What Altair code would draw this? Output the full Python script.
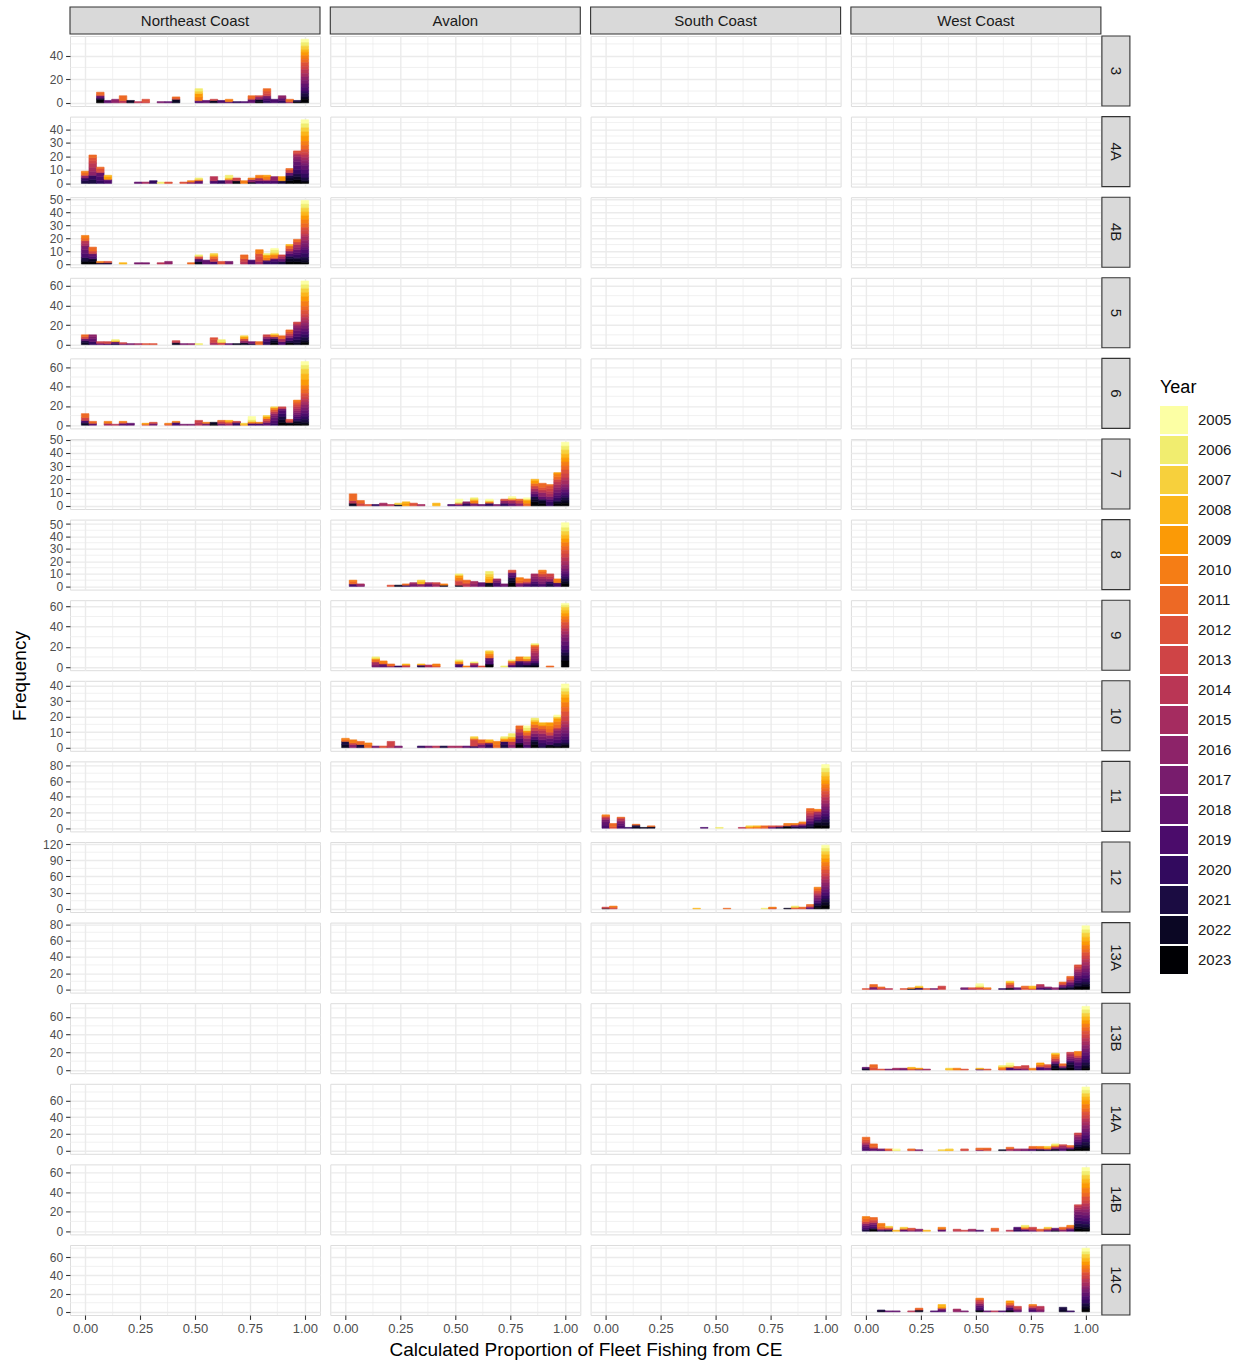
import altair as alt
import pandas as pd

FONT = "Liberation Sans"
GRID_COL = "#EBEBEB"
DARK = "#333333"
LABEL_COL = "#4D4D4D"

regions = ["Northeast Coast", "Avalon", "South Coast", "West Coast"]
zones = ["3", "4A", "4B", "5", "6", "7", "8", "9", "10", "11", "12", "13A", "13B", "14A", "14B", "14C"]
zone_region = {
    "3": "Northeast Coast", "4A": "Northeast Coast", "4B": "Northeast Coast", "5": "Northeast Coast", "6": "Northeast Coast",
    "7": "Avalon", "8": "Avalon", "9": "Avalon", "10": "Avalon",
    "11": "South Coast", "12": "South Coast",
    "13A": "West Coast", "13B": "West Coast", "14A": "West Coast", "14B": "West Coast", "14C": "West Coast",
}
years = list(range(2005, 2024))
year_colors = ["#FCFFA4", "#F1ED6F", "#F7D03C", "#FBB61A", "#FB9A06", "#F57D15", "#ED6925", "#DD513A",
               "#CF4446", "#BA3655", "#A52C60", "#8D2369", "#781C6D", "#61136E", "#4B0C6B", "#320A5E",
               "#1B0C42", "#0B0724", "#000004"]

y_breaks = {
    "3": [0, 20, 40], "4A": [0, 10, 20, 30, 40], "4B": [0, 10, 20, 30, 40, 50], "5": [0, 20, 40, 60],
    "6": [0, 20, 40, 60], "7": [0, 10, 20, 30, 40, 50], "8": [0, 10, 20, 30, 40, 50], "9": [0, 20, 40, 60],
    "10": [0, 10, 20, 30, 40], "11": [0, 20, 40, 60, 80], "12": [0, 30, 60, 90, 120], "13A": [0, 20, 40, 60, 80],
    "13B": [0, 20, 40, 60], "14A": [0, 20, 40, 60], "14B": [0, 20, 40, 60], "14C": [0, 20, 40, 60],
}
x_major = [0, 0.25, 0.5, 0.75, 1.0]
x_minor = [0.125, 0.375, 0.625, 0.875]
n_bins = 30
x_title = "Calculated Proportion of Fleet Fishing from CE"
y_title = "Frequency"

# bin index (0..29, centred on k/29) -> "yy:count" per year
P3 = {2: "23:3 21:1 18:2 12:1 11:2", 3: "18:2", 4: "16:3", 5: "14:2 11:4", 6: "22:2", 7: "14:1",
      8: "13:1 12:2", 10: "17:1", 11: "18:1", 12: "22:3 12:1 11:1", 15: "19:1 18:1 10:3 09:3 07:2 06:2",
      16: "18:2", 17: "22:2 13:1", 18: "19:2", 19: "18:1 10:2", 20: "20:1", 21: "19:1", 22: "18:3 12:1 11:2",
      23: "23:1 22:2 16:2 13:1", 24: "20:2 19:2 17:2 13:2 12:2 11:2", 25: "19:3", 26: "20:2 18:2 16:2",
      27: "15:1 11:2", 28: "23:1 21:1",
      29: "05:3 06:3 07:3 08:2 09:3 10:3 11:3 12:3 13:3 14:3 15:3 16:3 17:3 18:3 19:3 20:2 21:3 22:2 23:3"}
P4A = {0: "21:2 20:2 16:2 11:2 10:1", 1: "21:3 20:3 16:3 15:3 14:3 13:2 12:2 11:2",
       2: "20:2 19:3 18:3 13:1 12:2 11:1", 3: "19:2 18:1 09:2 08:1", 7: "18:1", 8: "15:1", 9: "20:2",
       10: "06:1", 11: "12:1", 13: "12:1", 14: "16:1 10:1", 15: "18:2 10:1 06:1", 17: "19:2 14:3", 18: "20:2",
       19: "16:2 14:1 08:1 06:2", 20: "23:1 22:1 13:2", 21: "10:2", 22: "22:1 16:2 10:1", 23: "19:2 15:2 10:2",
       24: "19:2 14:1 10:2 09:1", 25: "19:2 16:3", 26: "21:2 09:3", 27: "23:2 22:2 21:2 18:2 13:2 11:1",
       28: "23:3 22:2 21:2 20:3 19:3 18:3 17:2 16:2 15:1 14:1 13:1 12:1",
       29: "05:3 06:3 07:3 08:3 09:4 10:3 11:3 12:2 13:2 14:2 15:2 16:2 17:2 18:3 19:3 20:3 21:2 22:1 23:1"}
P4B = {0: "23:2 22:1 21:2 19:3 18:3 17:3 15:2 14:2 11:2 10:2", 1: "23:2 22:2 19:2 18:2 13:2 11:3",
       2: "21:1 10:1", 3: "21:1 12:1", 5: "08:1", 7: "17:1", 8: "17:1", 10: "14:1", 11: "16:2", 14: "11:1",
       15: "22:2 19:2 13:1 12:1 06:1", 16: "18:3", 17: "19:2 13:2 11:2 08:1 07:1", 18: "12:2", 19: "17:2",
       21: "14:2 13:2 11:3", 22: "19:3", 23: "15:2 13:4 12:2 10:3", 24: "20:2 19:1 10:2 09:2 06:1",
       25: "20:2 19:2 12:1 10:2 08:1 07:1 06:2 05:1", 26: "21:2 18:2 15:2 13:1",
       27: "23:2 22:2 21:2 19:2 17:2 13:2 11:2 08:1", 28: "23:2 22:2 21:1 20:2 19:2 18:2 16:2 15:2 13:2 11:2",
       29: "05:3 06:3 07:3 08:3 09:3 10:3 11:3 12:2 13:3 14:2 15:3 16:2 17:3 18:2 19:3 20:3 21:2 22:2 23:1"}
P5 = {0: "22:2 21:2 18:2 13:2 11:2", 1: "20:3 18:3 17:2 16:2", 2: "18:1 15:1 13:1", 3: "19:1 13:2",
      4: "21:1 18:2 08:1 06:1", 5: "17:1 13:1", 6: "17:1", 7: "15:1", 8: "12:1", 9: "12:1",
      12: "22:2 14:1 13:1", 13: "17:1", 14: "16:1", 15: "06:1", 17: "15:2 13:3 12:2", 18: "13:2 07:1 06:2",
      19: "18:1", 20: "22:1", 21: "22:2 16:2 13:2 09:2 07:1", 22: "21:1 17:2", 23: "11:3",
      24: "20:3 19:3 16:2 13:2", 25: "23:2 22:2 21:2 17:2 10:2 07:1", 26: "19:3 15:3 11:3",
      27: "23:2 21:2 19:3 16:2 14:2 12:2 11:2", 28: "22:2 21:3 20:3 19:3 18:3 17:3 16:2 15:2 13:2",
      29: "05:4 06:4 07:4 08:4 09:5 10:5 11:4 12:4 13:3 14:3 15:3 16:3 17:3 18:3 19:3 20:3 21:3 22:2 23:2"}
P6 = {0: "22:2 21:1 19:2 13:3 11:4", 1: "18:2 11:2", 3: "15:2 10:2", 4: "14:1", 5: "18:2 12:1 10:1",
      6: "18:2", 8: "12:1 09:1", 9: "17:2 12:1", 11: "12:1 10:1", 12: "19:3 10:1", 13: "17:1", 14: "17:1",
      15: "14:3 13:2", 16: "17:2 10:1", 17: "23:1 22:2", 18: "17:2 13:2 11:1", 19: "15:2 12:1 10:1 08:1",
      20: "20:2 19:1 13:1", 21: "09:1 07:1", 22: "19:2 11:1 09:1 06:2 05:3", 23: "19:2 10:1",
      24: "18:3 14:2 12:2 09:2 07:1", 25: "20:2 19:3 18:3 17:2 16:2 14:2 12:2 10:2 07:1",
      26: "23:3 22:3 21:3 20:3 19:3 18:2 14:1 13:1", 27: "23:2 22:1 13:2 12:1",
      28: "23:2 22:2 21:1 20:2 19:2 18:2 17:2 16:2 15:2 14:2 13:2 12:2 11:2 10:1",
      29: "05:4 06:4 07:5 08:6 09:6 10:4 11:4 12:3 13:3 14:3 15:3 16:3 17:3 18:3 19:3 20:3 21:3 22:2 23:1"}
P7 = {1: "22:2 14:2 11:5", 2: "13:2 11:2", 3: "12:1", 4: "20:1", 5: "15:2", 6: "14:1", 7: "22:1 07:1",
      8: "09:2 08:1", 9: "12:2", 10: "15:1", 12: "08:2", 14: "19:1", 15: "18:1 13:1 06:1 05:2",
      16: "20:2 16:1", 17: "17:2 10:2 08:1 06:1", 18: "18:1", 19: "20:2 11:1 07:1 05:1", 20: "17:1",
      21: "20:2 16:2 12:1", 22: "18:2 15:2 12:1 07:1 05:1", 23: "16:2 13:2 11:1", 24: "11:2 09:2 08:1 05:1",
      25: "23:3 22:2 21:2 19:2 17:2 15:2 13:2 11:2 09:2 08:1", 26: "23:2 22:2 21:1 18:2 16:3 14:2 12:2 11:3",
      27: "20:3 19:2 17:2 15:2 14:2 13:2 12:2 11:1",
      28: "23:2 22:1 21:1 20:2 19:2 18:2 17:2 16:2 15:2 14:2 13:2 11:2 10:2 09:1",
      29: "05:3 06:3 07:3 08:3 09:3 10:3 11:3 12:3 13:3 14:2 15:3 16:2 17:2 18:2 19:2 20:2 21:2 22:2 23:2"}
P8 = {1: "19:2 11:2 10:1", 2: "17:1 15:1", 6: "12:1", 7: "22:1", 8: "20:1 11:1", 9: "17:2 15:1",
      10: "16:2 08:2 07:1", 11: "18:2 15:1", 12: "15:2 13:1", 13: "22:1 10:1", 15: "22:1 13:3 12:1 10:2 09:2 06:1",
      16: "14:2 12:1 11:2", 17: "16:2 15:2", 18: "18:3", 19: "23:1 22:2 10:1 09:2 08:2 07:2 06:2",
      20: "19:3 17:2 15:1", 21: "18:1 17:1", 22: "23:3 22:2 21:2 19:2 18:2 13:1 12:1", 23: "17:2 15:1 11:2 10:2",
      24: "19:2 16:1 13:1 11:2", 25: "20:2 19:2 17:2 16:2 15:2", 26: "19:2 17:2 16:2 15:2 13:2 11:2 10:1",
      27: "21:2 20:2 16:2 14:2 13:2", 28: "19:3 10:3",
      29: "05:4 06:3 07:3 08:3 09:3 10:3 11:3 12:3 13:3 14:3 15:3 16:3 17:2 18:2 19:2 20:2 21:2 22:2 23:2"}
P9 = {4: "17:2 15:3 11:2 10:1 07:1 06:1", 5: "18:3 11:1 10:2", 6: "16:1 11:2", 7: "20:1", 8: "14:1 12:1 08:1",
      10: "21:1 18:1 08:1", 11: "15:1 14:1", 12: "12:1 10:2", 15: "19:3 10:2 08:1 06:1", 16: "10:1",
      17: "18:2 14:2 06:1", 18: "12:1", 19: "23:2 22:1 19:3 18:3 11:2 10:2 08:2 07:1", 21: "06:1",
      22: "19:2 14:2 11:2 06:1", 23: "21:2 20:2 19:2 11:2 10:2", 24: "22:2 19:2 17:2 10:2 07:2",
      25: "23:1 22:1 21:2 19:2 17:2 16:3 15:3 14:2 13:2 12:2 11:1 10:1 06:1", 27: "11:1",
      29: "05:2 06:2 07:3 08:3 09:3 10:3 11:3 12:3 13:3 14:3 15:3 16:3 17:4 18:4 19:4 20:3 21:3 22:5 23:6"}
P10 = {0: "22:2 21:2 11:1 10:1", 1: "16:2 13:1 10:2", 2: "21:2 11:2", 3: "11:2 10:1", 4: "17:1", 5: "12:1",
       6: "14:1 13:3", 7: "17:1", 10: "20:1", 11: "17:1", 12: "14:1", 13: "21:1", 14: "15:1", 15: "15:1",
       16: "18:1", 17: "20:1 13:4 11:1 07:1", 18: "17:2 14:1 11:2", 19: "20:2 18:1 10:1 08:1", 20: "11:2 10:2",
       21: "21:2 20:2 10:1 09:1 06:1", 22: "16:2 14:2 10:2 08:1 06:2", 23: "23:2 22:1 19:3 17:2 15:2 13:2 11:2",
       24: "19:2 17:2 16:2 14:2 11:2 09:1 06:2 05:1", 25: "23:2 22:2 21:1 19:2 17:2 15:2 13:2 11:2 09:2 07:1 06:1",
       26: "21:1 20:2 19:2 17:2 16:2 14:2 13:1 11:2 09:1 08:1", 27: "23:1 22:1 19:2 18:2 16:2 13:2 11:2 10:2 09:2",
       28: "23:1 21:2 19:2 18:2 17:2 16:2 15:1 13:1 11:2 10:2 09:2 07:1 05:1",
       29: "05:3 06:2 07:2 08:2 09:3 10:3 11:3 12:3 13:3 14:2 15:2 16:2 17:2 18:2 19:2 20:2 21:1 22:1 23:1"}
P11 = {0: "19:4 18:4 17:3 15:2 13:2 11:1 10:1", 1: "12:2 11:4", 2: "19:3 18:3 17:2 16:2 14:2 13:1 11:1",
       3: "20:1", 4: "22:2 21:2 11:1", 5: "22:1", 6: "22:2 11:1", 13: "19:1", 15: "06:1", 18: "14:1",
       19: "11:1 09:1 07:1", 20: "11:1 10:1 08:1", 21: "12:1 11:2", 22: "19:1 16:1 12:1", 23: "22:1 20:1 13:1",
       24: "23:2 21:1 11:2 10:1", 25: "21:2 18:2 11:1 10:1", 26: "22:1 20:2 17:2 13:1 11:1 10:1",
       27: "22:2 21:2 20:2 19:2 18:2 17:2 16:2 15:2 14:2 13:2 12:2 11:3",
       28: "23:4 22:3 21:2 20:2 19:2 18:2 17:2 16:2 15:2 12:1 11:1 10:1",
       29: "05:5 06:5 07:5 08:5 09:5 10:5 11:4 12:4 13:4 14:4 15:4 16:4 17:4 18:4 19:4 20:4 21:4 22:4 23:3"}
P12 = {0: "22:1 13:2", 1: "13:2 11:2 10:1", 12: "08:1", 16: "11:1", 21: "06:1", 22: "13:1 11:1 10:1",
       24: "22:1", 25: "12:2 10:1 06:2", 26: "13:1 11:2", 27: "19:2 16:2 12:2 11:2",
       28: "23:3 22:3 21:3 20:3 19:3 18:3 17:3 16:3 15:3 14:2 13:2 12:3 11:3 10:3",
       29: "05:6 06:6 07:6 08:7 09:7 10:7 11:7 12:6 13:6 14:6 15:6 16:6 17:6 18:6 19:6 20:6 21:6 22:6 23:6"}
P13A = {0: "12:1", 1: "17:3 11:3", 2: "14:1 12:1 11:1", 3: "14:1", 5: "12:1", 6: "22:1 10:1",
        7: "20:2 09:1 07:1", 8: "12:1", 9: "17:1", 10: "13:4", 13: "18:1 17:1", 14: "15:1 12:1",
        15: "13:2 11:1 06:2 05:2", 16: "13:1 10:1", 18: "20:1", 19: "23:1 22:1 14:2 13:2 11:2 08:1 07:1",
        20: "19:1 18:1", 21: "12:2 11:2", 22: "13:1 09:1 08:2", 23: "19:2 16:2 14:2", 24: "21:1 19:1 16:1",
        25: "17:1 16:1", 26: "23:1 22:1 19:2 16:2 12:2 11:1", 27: "22:2 21:2 19:2 18:2 16:2 14:2 12:2 11:2",
        28: "23:3 22:2 21:3 20:3 19:3 18:3 17:3 16:2 15:2 14:2 13:2 12:2",
        29: "05:5 06:4 07:5 08:5 09:5 10:5 11:4 12:4 13:4 14:4 15:4 16:4 17:4 18:4 19:4 20:4 21:3 22:3 23:3"}
P13B = {0: "22:1 21:1 18:1", 1: "12:3 11:3", 2: "12:1", 3: "17:1", 4: "17:1 15:1", 5: "18:1 16:1",
        6: "13:1 10:1 08:1", 7: "17:1 09:1", 8: "15:1", 11: "08:1 07:1", 12: "10:2", 13: "12:1", 15: "18:1 08:1",
        16: "12:1", 18: "12:1 10:2 08:1 06:1", 19: "19:3 10:1 06:2 05:2", 20: "18:2 12:2", 21: "18:1 14:2 13:2",
        22: "10:2", 23: "19:3 16:1 11:2 09:2", 24: "18:3 13:2 12:1",
        25: "23:2 22:3 21:2 18:2 15:2 13:2 11:2 10:2 09:1 07:1", 26: "22:2 21:1 16:1 15:1 11:2",
        27: "23:3 22:3 21:3 19:2 17:2 16:2 15:2 14:2 13:1", 28: "21:2 20:3 19:3 18:2 17:2 16:2 13:2 11:2 10:3",
        29: "05:4 06:4 07:4 08:4 09:4 10:4 11:4 12:4 13:4 14:4 15:4 16:4 17:4 18:4 19:4 20:4 21:3 22:3 23:2"}
P14A = {0: "19:3 18:2 17:2 15:2 13:2 12:2 11:3", 1: "18:3 12:2 11:3", 2: "19:1 17:1", 3: "13:1 11:1",
        4: "06:1 05:1", 6: "12:1 11:1", 7: "17:1", 10: "07:1", 11: "08:1 07:1", 13: "13:1 12:1", 15: "16:1 11:2",
        16: "12:2 11:1", 18: "22:1", 19: "15:2 11:2", 20: "17:1 15:1", 21: "18:1 16:1", 22: "19:2 12:1 11:2",
        23: "22:1 20:1 12:1 10:2", 24: "21:1 17:1 10:1 09:1 07:1", 25: "22:2 16:2 13:1 10:1 07:1 06:1",
        26: "19:2 17:2 15:2 13:1", 27: "23:1 22:1 18:1 16:1 12:1 11:1",
        28: "23:3 22:2 21:2 20:2 19:2 18:2 17:2 16:2 15:2 13:2",
        29: "05:4 06:4 07:4 08:4 09:5 10:5 11:4 12:4 13:4 14:4 15:4 16:4 17:4 18:4 19:4 20:4 21:4 22:3 23:3"}
P14B = {0: "21:2 19:2 18:2 16:2 13:2 11:3 10:2", 1: "23:2 22:1 19:2 18:2 16:2 13:2 12:1 11:2",
        2: "21:1 18:1 13:1 11:2 10:3", 3: "22:1 19:1 13:1 11:1 07:1", 4: "08:1", 5: "18:2 10:1 07:1",
        6: "17:1 13:1 12:1", 7: "18:1 16:1", 8: "08:1", 10: "18:2 10:2", 12: "14:1 13:1", 13: "13:1",
        14: "17:1 15:1", 15: "19:1", 17: "12:2 11:1", 19: "14:1", 20: "20:2 19:2", 21: "19:2 13:1 10:1 07:1 06:1",
        22: "18:1 15:1 13:2", 23: "13:1 11:1", 24: "19:1 15:1 11:1 07:1", 25: "22:1 18:2", 26: "16:2 11:2",
        27: "19:2 17:1 12:1 11:1 10:1", 28: "23:3 22:2 21:3 20:3 19:3 18:3 17:3 16:2 15:2 14:2 13:1",
        29: "05:4 06:4 07:4 08:4 09:5 10:5 11:4 12:4 13:3 14:3 15:3 16:3 17:3 18:3 19:3 20:3 21:3 22:2 23:2"}
P14C = {2: "22:1 21:1", 3: "18:1", 4: "18:1", 6: "14:1", 7: "22:2 12:1 11:1", 9: "19:1",
        10: "19:2 16:2 09:2 08:2", 12: "16:2 15:1", 13: "17:1", 15: "23:1 22:1 19:3 18:2 16:2 14:2 13:2 11:1 10:1",
        16: "18:1", 17: "14:1", 18: "19:1", 19: "23:1 22:1 19:3 15:2 13:1 11:2 09:2", 20: "18:2 15:2 13:2",
        22: "19:3 16:2 12:2 10:1", 23: "17:2 15:2 14:2", 26: "22:2 21:3", 27: "20:1",
        29: "05:4 06:3 07:4 08:4 09:4 10:4 11:4 12:3 13:4 14:4 15:4 16:3 17:4 18:4 19:4 20:4 21:3 22:3 23:3"}

panel_bins = {"3": P3, "4A": P4A, "4B": P4B, "5": P5, "6": P6, "7": P7, "8": P8, "9": P9, "10": P10,
              "11": P11, "12": P12, "13A": P13A, "13B": P13B, "14A": P14A, "14B": P14B, "14C": P14C}

records = []
for z, bins in panel_bins.items():
    for k, spec in bins.items():
        for tok in spec.split():
            yy, n = tok.split(":")
            records.append({"zone": z, "region": zone_region[z], "k": k, "year": 2000 + int(yy), "n": int(n)})
df = pd.DataFrame(records)
zone_max = df.groupby(["zone", "k"])["n"].sum().groupby("zone").max()

half = 0.5 / (n_bins - 1)
span = n_bins / (n_bins - 1)
x_domain = [-half - 0.05 * span, 1 + half + 0.05 * span]

W, H = 250, 70
HSP, VSP = 10.3, 10.6
NR, NC = len(zones), len(regions)
grid_w = NC * W + (NC - 1) * HSP
grid_h = NR * H + (NR - 1) * VSP
ytitle_row = NR // 2 - 1          # the gap below this row is the vertical centre of the grid
xtitle_col = 1                    # the gap right of this column is the horizontal centre

TICK_FS = 12
STRIP_FS = 15
TITLE_FS = 19

legend = alt.Legend(title="Year", orient="none", legendX=1090, legendY=343, symbolType="square",
                    symbolSize=784, symbolStrokeWidth=0, symbolOpacity=1, labelFontSize=15, titleFontSize=18,
                    titleFontWeight="normal", labelOffset=10, rowPadding=2, titlePadding=9,
                    labelColor="#1A1A1A", titleColor="#000000", labelFont=FONT, titleFont=FONT)
color_scale = alt.Scale(domain=years, range=year_colors)
color = alt.Color("year:O", scale=color_scale, legend=legend)
stroke = alt.Stroke("year:O", scale=color_scale, legend=None)

xminor_df = pd.DataFrame({"v": x_minor})


def make_panel(zi, ri):
    z = zones[zi]
    r = regions[ri]
    first_col = ri == 0
    last_col = ri == NC - 1
    first_row = zi == 0
    last_row = zi == NR - 1
    M = float(zone_max[z])
    ydom = [-0.05 * M, 1.05 * M]
    yb = y_breaks[z]
    step = yb[1] - yb[0]
    yminor = [v + step / 2 for v in yb if ydom[0] <= v + step / 2 <= ydom[1]]
    xs = alt.Scale(domain=x_domain, nice=False, zero=False)
    ys = alt.Scale(domain=ydom, nice=False, zero=False)

    xax_kw = dict(values=x_major, format=".2f", grid=True, gridColor=GRID_COL, gridWidth=1.4, domain=False,
                  labels=last_row, ticks=last_row, tickColor=DARK, tickSize=4.4, tickWidth=1.1,
                  labelFontSize=13, labelColor=LABEL_COL, labelPadding=3, labelFont=FONT, labelOverlap=False)
    if last_row and ri == xtitle_col:
        xax = alt.Axis(title=x_title, titleX=grid_w / 2 - xtitle_col * (W + HSP), titleY=25,
                       titleFontSize=TITLE_FS, titleFontWeight="normal", titleColor="#000000", titleFont=FONT,
                       titleBaseline="top", titleAlign="center", **xax_kw)
    else:
        xax = alt.Axis(title=None, **xax_kw)

    yax_kw = dict(values=yb, grid=True, gridColor=GRID_COL, gridWidth=1.4, domain=False,
                  labels=first_col, ticks=first_col, tickColor=DARK, tickSize=4.4, tickWidth=1.1,
                  labelFontSize=TICK_FS, labelColor=LABEL_COL, labelPadding=3, labelFont=FONT, labelOverlap=False)
    if first_col and zi == ytitle_row:
        yax = alt.Axis(title=y_title, titleX=-41, titleY=grid_h / 2 - ytitle_row * (H + VSP),
                       titleFontSize=TITLE_FS, titleFontWeight="normal", titleColor="#000000", titleFont=FONT,
                       titleAngle=270, titleAlign="center", titleBaseline="bottom", **yax_kw)
    else:
        yax = alt.Axis(title=None, **yax_kw)

    layers = [
        alt.Chart(xminor_df).mark_rule(color=GRID_COL, strokeWidth=0.7).encode(
            x=alt.X("v:Q", scale=xs, axis=xax)),
        alt.Chart(pd.DataFrame({"v": yminor})).mark_rule(color=GRID_COL, strokeWidth=0.7).encode(
            y=alt.Y("v:Q", scale=ys, axis=yax)),
        alt.Chart(df).transform_filter(
            (alt.datum.zone == z) & (alt.datum.region == r)
        ).transform_stack(
            stack="n", groupby=["k"], as_=["y0", "y1"], sort=[alt.SortField("year", order="descending")]
        ).transform_calculate(
            x0="(datum.k - 0.5) / 29", x1="(datum.k + 0.5) / 29"
        ).mark_rect(strokeWidth=0.6).encode(
            x=alt.X("x0:Q", scale=xs, axis=xax), x2="x1:Q",
            y=alt.Y("y0:Q", scale=ys, axis=yax), y2="y1:Q",
            color=color, stroke=stroke,
        ),
    ]
    if first_row:
        lab = alt.Chart(pd.DataFrame({"lab": [r]}))
        layers.append(lab.mark_rect(fill="#D9D9D9", stroke=DARK, strokeWidth=1.1).encode(
            x=alt.value(0), x2=alt.value(W), y=alt.value(-29), y2=alt.value(-2)))
        layers.append(lab.mark_text(fontSize=STRIP_FS, color="#1A1A1A", font=FONT).encode(
            x=alt.value(W / 2), y=alt.value(-15.5), text="lab:N"))
    if last_col:
        lab = alt.Chart(pd.DataFrame({"lab": [z]}))
        layers.append(lab.mark_rect(fill="#D9D9D9", stroke=DARK, strokeWidth=1.1).encode(
            x=alt.value(W + 1), x2=alt.value(W + 29), y=alt.value(0), y2=alt.value(H)))
        layers.append(lab.mark_text(fontSize=STRIP_FS, color="#1A1A1A", font=FONT, angle=90).encode(
            x=alt.value(W + 15), y=alt.value(H / 2), text="lab:N"))
    return alt.layer(*layers).properties(width=W, height=H)


panels = [make_panel(zi, ri) for zi in range(NR) for ri in range(NC)]

chart = alt.concat(*panels, columns=NC, spacing={"row": VSP, "column": HSP}, bounds="flush").properties(
    padding={"left": 9, "top": 5, "right": 5, "bottom": 5},
).resolve_scale(color="shared").configure_view(stroke=DARK, strokeWidth=1.1).configure(font=FONT)

chart.save("out.html", embed_options={"renderer": "svg", "actions": False})
